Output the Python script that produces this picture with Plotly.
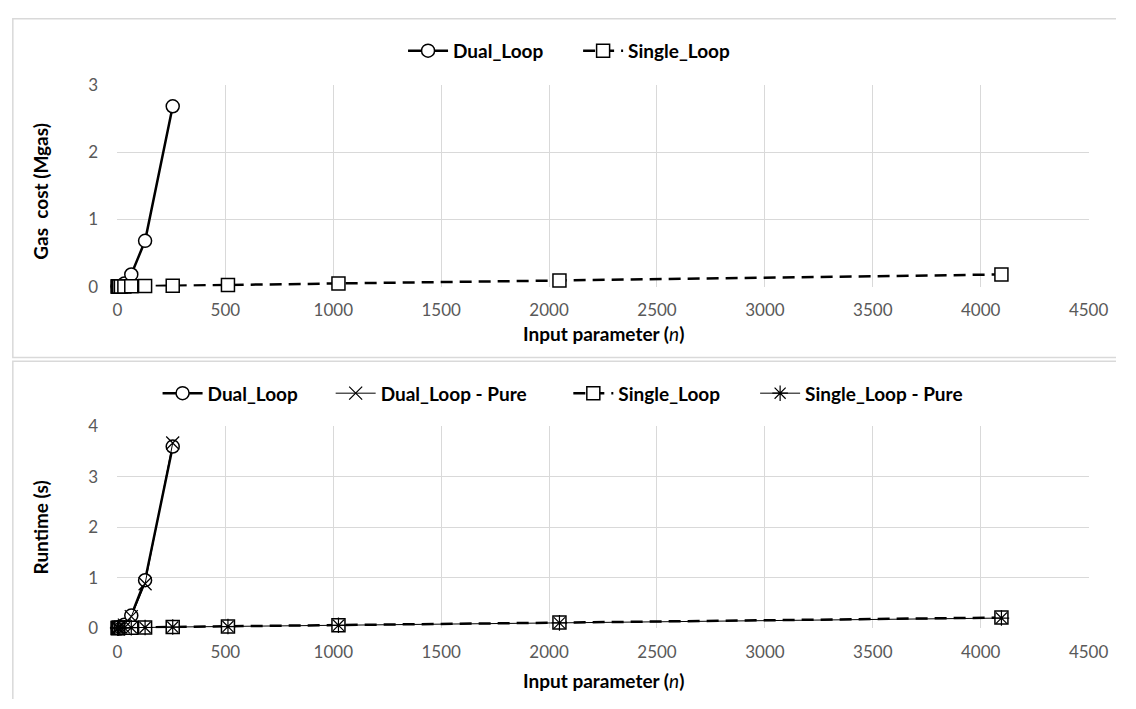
import plotly.graph_objects as go

# ---- data ----
n_dual = [1, 2, 4, 8, 16, 32, 64, 128, 256]
n_single = [1, 2, 4, 8, 16, 32, 64, 128, 256, 512, 1024, 2048, 4096]

gas_dual = [0.001, 0.002, 0.003, 0.005, 0.012, 0.045, 0.18, 0.68, 2.68]
gas_single = [0.001, 0.001, 0.001, 0.002, 0.002, 0.003, 0.005, 0.008, 0.013, 0.024, 0.046, 0.09, 0.18]

rt_dual = [0.005, 0.005, 0.006, 0.008, 0.015, 0.07, 0.25, 0.95, 3.6]
rt_dual_pure = [0.004, 0.004, 0.005, 0.007, 0.013, 0.06, 0.23, 0.88, 3.67]
rt_single = [0.005, 0.005, 0.005, 0.006, 0.007, 0.008, 0.01, 0.015, 0.025, 0.035, 0.06, 0.11, 0.21]
rt_single_pure = [0.004, 0.004, 0.004, 0.005, 0.006, 0.007, 0.009, 0.013, 0.022, 0.032, 0.057, 0.105, 0.2]

x_ticks = [0, 500, 1000, 1500, 2000, 2500, 3000, 3500, 4000, 4500]

FONT = "Lato"
# reference picture size; positions below are given in its pixels and turned into
# paper fractions so the figure can fill whatever viewport the browser has
W, H = 1136, 709


def px_x(v):
    return v / W


def px_y(v):
    return 1 - v / H


fig = go.Figure()

DASH = "12px,7px"
mk_circle = dict(symbol="circle", size=13, color="white", line=dict(color="black", width=1.5))
mk_square = dict(symbol="square", size=13, color="white", line=dict(color="black", width=1.5))
mk_x = dict(symbol="x-thin", size=13, line=dict(color="black", width=1.2))
mk_ast = dict(symbol="asterisk", size=13, line=dict(color="black", width=1.2))

fig.add_trace(go.Scatter(x=n_dual, y=gas_dual, name="Dual_Loop", mode="lines+markers",
                         line=dict(color="black", width=2.5), marker=mk_circle,
                         xaxis="x", yaxis="y", legend="legend", cliponaxis=False))
fig.add_trace(go.Scatter(x=n_single, y=gas_single, name="Single_Loop", mode="lines+markers",
                         line=dict(color="black", width=2.5, dash=DASH), marker=mk_square,
                         xaxis="x", yaxis="y", legend="legend2", cliponaxis=False))

fig.add_trace(go.Scatter(x=n_dual, y=rt_dual, name="Dual_Loop", mode="lines+markers",
                         line=dict(color="black", width=2.5), marker=mk_circle,
                         xaxis="x2", yaxis="y2", legend="legend3", cliponaxis=False))
fig.add_trace(go.Scatter(x=n_dual, y=rt_dual_pure, name="Dual_Loop - Pure", mode="lines+markers",
                         line=dict(color="black", width=1), marker=mk_x,
                         xaxis="x2", yaxis="y2", legend="legend4", cliponaxis=False))
fig.add_trace(go.Scatter(x=n_single, y=rt_single, name="Single_Loop", mode="lines+markers",
                         line=dict(color="black", width=2.5, dash=DASH), marker=mk_square,
                         xaxis="x2", yaxis="y2", legend="legend5", cliponaxis=False))
fig.add_trace(go.Scatter(x=n_single, y=rt_single_pure, name="Single_Loop - Pure", mode="lines+markers",
                         line=dict(color="black", width=1), marker=mk_ast,
                         xaxis="x2", yaxis="y2", legend="legend6", cliponaxis=False))

xdom = [px_x(115), px_x(1108)]
tickfont = dict(family=FONT, size=17, color="#595959")
xaxis_common = dict(showgrid=True, gridcolor="#d9d9d9", gridwidth=1, zeroline=False,
                    showline=False, ticks="outside", ticklen=8, tickcolor="rgba(0,0,0,0)",
                    tickfont=tickfont, range=[0, 4500], tickvals=x_ticks, domain=xdom)
yaxis_common = dict(showgrid=True, gridcolor="#d9d9d9", gridwidth=1, zeroline=False,
                    showline=False, ticks="outside", ticklen=15, tickcolor="rgba(0,0,0,0)",
                    tickfont=tickfont)

TITLE_FONT = dict(family=FONT, size=19, color="black")
LEG_FONT = dict(family=FONT, size=19, color="black", weight="bold")


def leg(xpx, ypx):
    return dict(orientation="h", x=px_x(xpx), xanchor="left", y=px_y(ypx), yanchor="middle",
                font=LEG_FONT, itemwidth=40, bgcolor="rgba(0,0,0,0)", borderwidth=0)


def frame_path(x0, y0, x1, y1, bottom=True):
    X0, X1 = px_x(x0), px_x(x1)
    Y0, Y1 = px_y(y0), px_y(y1)
    p = f"M {X1},{Y0} L {X0},{Y0} L {X0},{Y1}"
    if bottom:
        p += f" L {X1},{Y1}"
    return dict(type="path", xref="paper", yref="paper", path=p,
                line=dict(color="#d9d9d9", width=1.5))


fig.update_layout(
    autosize=True,
    margin=dict(l=0, r=0, t=0, b=0),
    paper_bgcolor="white", plot_bgcolor="white",
    font=dict(family=FONT, color="black"),
    showlegend=True,
    xaxis=dict(anchor="y", **xaxis_common),
    yaxis=dict(domain=[px_y(284), px_y(76)], range=[0, 3], tickvals=[0, 1, 2, 3], anchor="x", **yaxis_common),
    xaxis2=dict(anchor="y2", **xaxis_common),
    yaxis2=dict(domain=[px_y(636), px_y(428)], range=[0, 4], tickvals=[0, 1, 2, 3, 4], anchor="x2", **yaxis_common),
    legend=leg(407, 41),
    legend2=leg(586, 41),
    legend3=leg(156, 394),
    legend4=leg(333, 394),
    legend5=leg(576, 394),
    legend6=leg(767, 394),
    shapes=[
        frame_path(8, 8, W, 357, bottom=True),
        frame_path(8, 361, W, H, bottom=False),
    ],
    annotations=[
        dict(text="<b>Input parameter (</b><i>n</i><b>)</b>", xref="paper", yref="paper",
             x=px_x((115 + 1108) / 2), y=px_y(332), xanchor="center", yanchor="middle",
             showarrow=False, font=TITLE_FONT),
        dict(text="<b>Input parameter (</b><i>n</i><b>)</b>", xref="paper", yref="paper",
             x=px_x((115 + 1108) / 2), y=px_y(690), xanchor="center", yanchor="middle",
             showarrow=False, font=TITLE_FONT),
        dict(text="<b>Gas  cost (Mgas)</b>", xref="paper", yref="paper", textangle=-90,
             x=px_x(36), y=px_y(186), xanchor="center", yanchor="middle",
             showarrow=False, font=TITLE_FONT),
        dict(text="<b>Runtime (s)</b>", xref="paper", yref="paper", textangle=-90,
             x=px_x(36), y=px_y(532), xanchor="center", yanchor="middle",
             showarrow=False, font=TITLE_FONT),
    ],
)

fig.write_html("out.html", config={"displayModeBar": False, "responsive": True},
               default_width="100vw", default_height="100vh",
               post_script="document.body.style.margin='0';document.documentElement.style.overflow='hidden';")
